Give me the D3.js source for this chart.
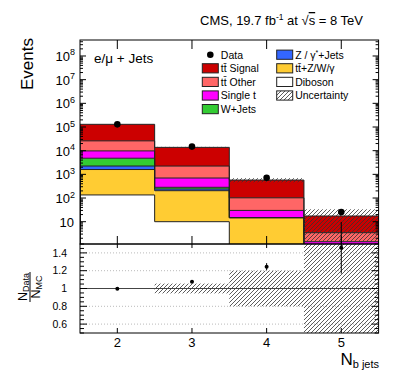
<!DOCTYPE html>
<html>
<head>
<meta charset="utf-8" />
<title>N b jets</title>
<script src="https://d3js.org/d3.v7.min.js"></script>
<style>
  body { margin: 0; background: #fff; }
  text { font-family: "Liberation Sans", Arial, sans-serif; fill: #000; }
</style>
</head>
<body>
<svg id="mysvg" width="399" height="383"></svg>
<script>
// bins of N b jets
var bins = [2, 3, 4, 5];
// stacked backgrounds, bottom to top
var diboson  = [135, 10, 0.3, 0.05];
var ttV      = [1465, 194, 14.4, 0.95];
var zJets    = [650, 36, 0.05, 0.01];
var wJets    = [2550, 44, 0.15, 0.02];
var singleT  = [5000, 416, 15.1, 0.4];
var ttOther  = [16200, 1540, 72, 2.0];
var ttSignal = [104000, 11560, 473, 14.0];
var dataCounts = [129500, 14850, 716, 25.4];
var dataErr    = [360, 122, 27, 5];
var mcUnc      = [0.004, 0.055, 0.2, 0.92];
var ratioErr   = [0.003, 0.009, 0.04, 0.29];

var yTickExp = [1, 2, 3, 4, 5, 6, 7, 8];
var ratioTicks = [0.6, 0.8, 1, 1.2, 1.4];

var keys = ["diboson", "ttV", "zJets", "wJets", "singleT", "ttOther", "ttSignal"];
var series = {diboson: diboson, ttV: ttV, zJets: zJets, wJets: wJets,
  singleT: singleT, ttOther: ttOther, ttSignal: ttSignal};
var colors = {diboson: "#ffffff", ttV: "#ffcc33", zJets: "#3366ff", wJets: "#33cc33",
  singleT: "#ff00ff", ttOther: "#ff6666", ttSignal: "#cc0000"};

var rows = bins.map(function(b, i) {
  var r = {bin: b};
  keys.forEach(function(k) { r[k] = series[k][i]; });
  return r;
});
var stacked = d3.stack().keys(keys)(rows);
var mcTotal = rows.map(function(r) { return d3.sum(keys, function(k) { return r[k]; }); });

var L = 80, R = 378.6, T = 40, MB = 244, RB = 333;
var x = d3.scaleLinear().domain([1.5, 5.5]).range([L, R]);
var y = d3.scaleLog().domain([1.143, 4.74e8]).range([MB, T]);
var yr = d3.scaleLinear().domain([0.5, 1.5]).range([RB, MB]);
function ys(v) { return y(Math.max(v, 1e-3)); }

var svg = d3.select("#mysvg");
var defs = svg.append("defs");
defs.append("clipPath").attr("id", "clipMain").append("rect")
  .attr("x", L).attr("y", T).attr("width", R - L).attr("height", MB - T);
defs.append("clipPath").attr("id", "clipRatio").append("rect")
  .attr("x", L).attr("y", MB).attr("width", R - L).attr("height", RB - MB);
var pat = defs.append("pattern").attr("id", "hatch").attr("patternUnits", "userSpaceOnUse")
  .attr("width", 4).attr("height", 4);
pat.append("path").attr("d", "M-1,1 l2,-2 M0,4 l4,-4 M3,5 l2,-2")
  .attr("stroke", "#333").attr("stroke-width", 0.8);

// ---- main panel ----
var main = svg.append("g").attr("clip-path", "url(#clipMain)");
stacked.forEach(function(layer) {
  main.selectAll(null).data(layer).enter().append("rect")
    .attr("x", function(d, i) { return x(bins[i] - 0.5); })
    .attr("width", function(d, i) { return x(bins[i] + 0.5) - x(bins[i] - 0.5); })
    .attr("y", function(d) { return ys(d[1]); })
    .attr("height", function(d) { return ys(d[0]) - ys(d[1]); })
    .attr("fill", colors[layer.key]);
});
var stepLine = d3.line().x(function(d) { return x(d[0]); }).y(function(d) { return ys(d[1]); });
stacked.forEach(function(layer) {
  var pts = [[1.5, 1e-3]];
  layer.forEach(function(d, i) { pts.push([bins[i] - 0.5, d[1]]); pts.push([bins[i] + 0.5, d[1]]); });
  pts.push([5.5, 1e-3]);
  main.append("path").attr("d", stepLine(pts))
    .attr("fill", "none").attr("stroke", "#222").attr("stroke-width", 1);
});
// MC uncertainty
main.selectAll(null).data(bins).enter().append("rect")
  .attr("x", function(b) { return x(b - 0.5); })
  .attr("width", function(b) { return x(b + 0.5) - x(b - 0.5); })
  .attr("y", function(b, i) { return ys(mcTotal[i] * (1 + mcUnc[i])); })
  .attr("height", function(b, i) { return ys(mcTotal[i] * (1 - mcUnc[i])) - ys(mcTotal[i] * (1 + mcUnc[i])); })
  .attr("fill", "url(#hatch)");
// data
main.selectAll(null).data(bins).enter().append("line")
  .attr("x1", function(b) { return x(b); }).attr("x2", function(b) { return x(b); })
  .attr("y1", function(b, i) { return ys(dataCounts[i] - dataErr[i]); })
  .attr("y2", function(b, i) { return ys(dataCounts[i] + dataErr[i]); })
  .attr("stroke", "#000");
main.selectAll(null).data(bins).enter().append("circle")
  .attr("cx", function(b) { return x(b); })
  .attr("cy", function(b, i) { return ys(dataCounts[i]); })
  .attr("r", 3.3).attr("fill", "#000");

// ---- ratio panel ----
var ratio = svg.append("g").attr("clip-path", "url(#clipRatio)");
ratio.selectAll(null).data([0.6, 0.8, 1.2, 1.4]).enter().append("line")
  .attr("x1", L).attr("x2", R).attr("y1", yr).attr("y2", yr)
  .attr("stroke", "#bbb").attr("stroke-dasharray", "1,2");
ratio.selectAll(null).data(bins).enter().append("rect")
  .attr("x", function(b) { return x(b - 0.5); })
  .attr("width", function(b) { return x(b + 0.5) - x(b - 0.5); })
  .attr("y", function(b, i) { return yr(1 + mcUnc[i]); })
  .attr("height", function(b, i) { return yr(1 - mcUnc[i]) - yr(1 + mcUnc[i]); })
  .attr("fill", "url(#hatch)");
ratio.append("line").attr("x1", L).attr("x2", R).attr("y1", yr(1)).attr("y2", yr(1))
  .attr("stroke", "#444").attr("stroke-width", 1);
var ratioVals = dataCounts.map(function(d, i) { return d / mcTotal[i]; });
svg.append("g").selectAll("line").data(bins).enter().append("line")
  .attr("x1", function(b) { return x(b); }).attr("x2", function(b) { return x(b); })
  .attr("y1", function(b, i) { return yr(ratioVals[i] - ratioErr[i]); })
  .attr("y2", function(b, i) { return yr(ratioVals[i] + ratioErr[i]); })
  .attr("stroke", "#000");
ratio.selectAll(null).data(bins).enter().append("circle")
  .attr("cx", function(b) { return x(b); })
  .attr("cy", function(b, i) { return yr(ratioVals[i]); })
  .attr("r", 2).attr("fill", "#000");

// ---- frames and ticks ----
var ax = svg.append("g").attr("stroke", "#000").attr("stroke-width", 1);
ax.append("rect").attr("x", L).attr("y", T).attr("width", R - L).attr("height", MB - T).attr("fill", "none");
ax.append("rect").attr("x", L).attr("y", MB).attr("width", R - L).attr("height", RB - MB).attr("fill", "none");

var logTicks = [];
for (var e = 0; e <= 8; e++) {
  for (var m = 1; m < 10; m++) {
    var v = m * Math.pow(10, e);
    if (v >= y.domain()[0] && v <= y.domain()[1]) logTicks.push({v: v, major: m == 1});
  }
}
logTicks.forEach(function(t) {
  var len = t.major ? 6 : 3;
  ax.append("line").attr("x1", L).attr("x2", L + len).attr("y1", y(t.v)).attr("y2", y(t.v));
  ax.append("line").attr("x1", R).attr("x2", R - len).attr("y1", y(t.v)).attr("y2", y(t.v));
});
for (var r = 0.5; r <= 1.5001; r += 0.05) {
  var major = Math.abs(r * 5 - Math.round(r * 5)) < 1e-6;
  var len2 = major ? 7 : 4;
  ax.append("line").attr("x1", L).attr("x2", L + len2).attr("y1", yr(r)).attr("y2", yr(r));
  ax.append("line").attr("x1", R).attr("x2", R - len2).attr("y1", yr(r)).attr("y2", yr(r));
}
bins.forEach(function(b) {
  ax.append("line").attr("x1", x(b)).attr("x2", x(b)).attr("y1", T).attr("y2", T + 9);
  ax.append("line").attr("x1", x(b)).attr("x2", x(b)).attr("y1", MB - 8).attr("y2", MB + 4);
  ax.append("line").attr("x1", x(b)).attr("x2", x(b)).attr("y1", RB - 5).attr("y2", RB);
});

// ---- tick labels ----
var yl = svg.append("g").attr("font-size", 13).attr("text-anchor", "end");
yTickExp.forEach(function(k) {
  var t = yl.append("text").attr("x", k == 1 ? 74 : 75).attr("y", y(Math.pow(10, k)) + 5);
  t.append("tspan").text("10");
  if (k > 1) t.append("tspan").attr("font-size", 9).attr("dy", -5.5).text(k);
});
svg.append("g").attr("font-size", 10.5).attr("text-anchor", "end")
  .selectAll("text").data(ratioTicks).enter().append("text")
  .attr("x", 67).attr("y", function(d) { return yr(d) + 3.7; })
  .text(function(d) { return d == 1 ? "1" : d3.format(".1f")(d); });
svg.append("g").attr("font-size", 13).attr("text-anchor", "middle")
  .selectAll("text").data(bins).enter().append("text")
  .attr("x", function(b) { return x(b); }).attr("y", 347).text(function(b) { return b; });

// ---- axis titles ----
svg.append("text").attr("transform", "translate(33,38) rotate(-90)")
  .attr("text-anchor", "end").attr("font-size", 17).text("Events");
var xt = svg.append("text").attr("x", 379).attr("y", 365).attr("text-anchor", "end").attr("font-size", 17);
xt.append("tspan").text("N");
xt.append("tspan").attr("font-size", 11).attr("dy", 2.5).text("b jets");

var rl = svg.append("g").attr("transform", "translate(29,287) rotate(-90)");
var num = rl.append("text").attr("x", 0).attr("y", -2).attr("text-anchor", "middle").attr("font-size", 12.5);
num.append("tspan").text("N");
num.append("tspan").attr("font-size", 9).attr("dy", 2.3).text("Data");
rl.append("line").attr("x1", -15).attr("x2", 15).attr("y1", 1).attr("y2", 1).attr("stroke", "#000");
var den = rl.append("text").attr("x", 0).attr("y", 11).attr("text-anchor", "middle").attr("font-size", 12.5);
den.append("tspan").text("N");
den.append("tspan").attr("font-size", 9).attr("dy", 2.3).text("MC");

// title
var title = svg.append("text").attr("x", 363).attr("y", 25).attr("text-anchor", "end").attr("font-size", 13);
title.append("tspan").text("CMS, 19.7 fb");
title.append("tspan").attr("font-size", 8.5).attr("dy", -5).text("-1");
title.append("tspan").attr("dy", 5).text(" at \u221A");
title.append("tspan").style("text-decoration", "overline").text("s");
title.append("tspan").text(" = 8 TeV");

svg.append("text").attr("x", 94).attr("y", 63).attr("font-size", 13.5).text("e/\u03BC + Jets");

// ---- legend ----
var legLeft = [
  {label: "Data", key: "data"},
  {label: "tt\u0304 Signal", key: "ttSignal"},
  {label: "tt\u0304 Other", key: "ttOther"},
  {label: "Single t", key: "singleT"},
  {label: "W+Jets", key: "wJets"}
];
var legRight = [
  {label: "Z / \u03B3*+Jets", key: "zJets"},
  {label: "tt\u0304+Z/W/\u03B3", key: "ttV"},
  {label: "Diboson", key: "diboson"},
  {label: "Uncertainty", key: "unc"}
];
function drawLegend(items, bx) {
  items.forEach(function(it, i) {
    var cy = 54.7 + i * 13.6;
    if (it.key == "data") {
      svg.append("circle").attr("cx", bx + 8).attr("cy", cy).attr("r", 3.3).attr("fill", "#000");
    } else {
      svg.append("rect").attr("x", bx).attr("y", cy - 4.6).attr("width", 16).attr("height", 9.2)
        .attr("fill", it.key == "unc" ? "url(#hatch)" : colors[it.key])
        .attr("stroke", "#222").attr("stroke-width", 1);
    }
    var t = svg.append("text").attr("x", bx + 18.5).attr("y", cy + 3.8).attr("font-size", 10.5);
    if (it.key == "zJets") {
      t.append("tspan").text("Z / \u03B3");
      t.append("tspan").attr("font-size", 7).attr("dy", -4).text("*");
      t.append("tspan").attr("dy", 4).text("+Jets");
    } else {
      t.text(it.label);
    }
  });
}
drawLegend(legLeft, 202.3);
drawLegend(legRight, 276.7);
</script>
</body>
</html>
